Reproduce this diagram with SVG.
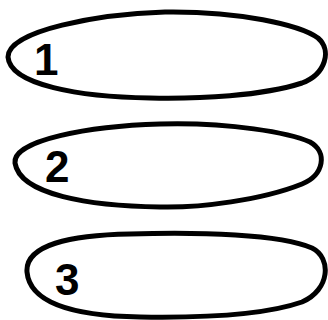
<svg xmlns="http://www.w3.org/2000/svg" width="328" height="320" viewBox="0 0 328 320">
<style>
.shape{fill:#fff;stroke:#000;stroke-width:5;stroke-linejoin:round;stroke-linecap:round}
.lbl{font-family:"Liberation Sans",Arial,sans-serif;font-weight:bold;font-size:44px;fill:#000}
</style>
<rect width="328" height="320" fill="#fff"/>
<g id="node1">
<path class="shape" d="M 8 57 C 8 30, 100 14, 165 12 C 240 11, 300 25, 318 38 C 332 50, 326 74, 302 83 C 262 96, 200 99, 150 98 C 80 97, 10 85, 8 57 Z"/>
<text class="lbl" x="34" y="75">1</text>
</g>
<g id="node2">
<path class="shape" d="M 15 163 C 12 140, 90 126, 160 124 C 230 122, 290 133, 310 142 C 328 152, 324 175, 302 184 C 262 200, 200 208, 160 207 C 90 206, 20 195, 15 163 Z"/>
<text class="lbl" x="45" y="182">2</text>
</g>
<g id="node3">
<path class="shape" d="M 27 272 C 25 245, 70 235, 130 234 C 200 232, 280 234, 312 248 C 332 258, 330 290, 302 302 C 262 316, 200 318, 140 317 C 80 316, 30 305, 27 272 Z"/>
<text class="lbl" x="55" y="295">3</text>
</g>
<g id="connectors"/>
</svg>
